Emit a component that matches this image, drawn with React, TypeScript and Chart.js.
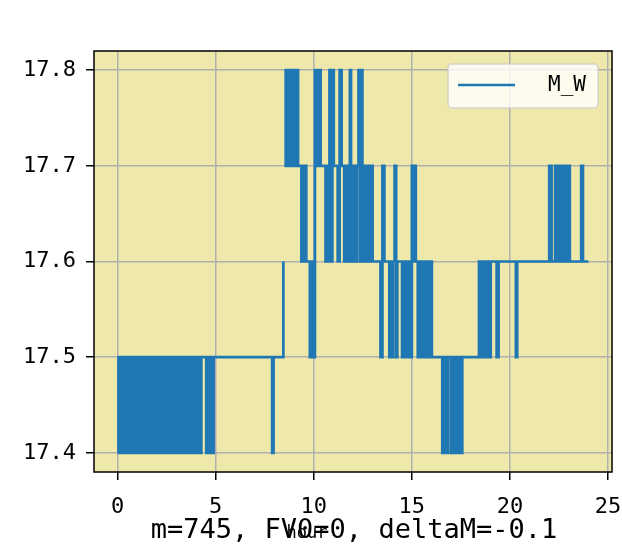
import React, { useEffect, useRef } from 'react';
import { Chart, registerables } from 'chart.js';

Chart.register(...registerables);

// Change points of the step series (hour, M_W); null marks a gap in the record
const hours: number[] = [
  0, 0.05, 0.1, 0.18, 0.24, 0.31, 0.37, 0.45, 0.5, 0.58, 0.63, 0.72, 0.77, 0.85, 0.9, 0.98,
  1.04, 1.11, 1.17, 1.25, 1.3, 1.38, 1.43, 1.52, 1.57, 1.65, 1.7, 1.78, 1.84, 1.92, 1.97,
  2.05, 2.1, 2.18, 2.24, 2.32, 2.37, 2.45, 2.5, 2.58, 2.64, 2.72, 2.77, 2.85, 2.9, 2.98,
  3.04, 3.12, 3.17, 3.25, 3.3, 3.38, 3.44, 3.52, 3.57, 3.65, 3.7, 3.78, 3.83, 3.9,
  4.02, 4.1, 4.18, 4.27,
  4.52, 4.6, 4.68, 4.77, 4.83, 4.9,
  7.88, 7.95,
  8.45, 8.47, 8.5,
  8.57, 8.63, 8.7, 8.76, 8.83, 8.89, 8.96, 9.02, 9.09, 9.15, 9.2,
  9.37, 9.44, 9.5, 9.57, 9.62,
  9.8, 9.86, 9.92, 9.98, 10.02, 10.06, 10.12, 10.18, 10.25, 10.3, 10.35,
  10.6, 10.67, 10.73, 10.8, 10.88, 10.95, 11.02,
  11.22, 11.32, 11.42,
  11.55, 11.6, 11.66, 11.72, 11.78, 11.84, 11.9, 11.96, 12.02, 12.08, 12.14, 12.2, 12.28,
  12.35, 12.42, 12.48, 12.54, 12.6, 12.67, 12.72,
  12.82, 12.88, 12.95, 13.0,
  13.4, 13.5, 13.6,
  13.85, 13.92, 13.98, 14.05, 14.12, 14.2, 14.26,
  14.5, 14.57, 14.63, 14.7, 14.77, 14.84, 14.9, 15.0, 15.08, 15.15, 15.2,
  15.3, 15.36, 15.42, 15.48, 15.54, 15.6, 15.66, 15.72, 15.78, 15.84, 15.9, 15.96, 16.02,
  16.55, 16.65, 16.75, 16.85,
  17.0, 17.07, 17.13, 17.2, 17.27, 17.33, 17.4, 17.47, 17.52, 17.57,
  18.42, 18.48, 18.54, 18.6, 18.66, 18.72, 18.78, 18.85, 18.92, 18.97, 19.02,
  19.32, 19.42,
  20.3, 20.37,
  22.0, 22.12, 22.3, 22.38, 22.5, 22.56, 22.62, 22.68, 22.74, 22.8, 22.86, 22.92, 22.98, 23.05,
  23.63, 23.72,
  24.0,
];

const mw: (number | null)[] = [
  17.4, 17.5, 17.4, 17.5, 17.4, 17.5, 17.4, 17.5, 17.4, 17.5, 17.4, 17.5, 17.4, 17.5, 17.4, 17.5,
  17.4, 17.5, 17.4, 17.5, 17.4, 17.5, 17.4, 17.5, 17.4, 17.5, 17.4, 17.5, 17.4, 17.5, 17.4,
  17.5, 17.4, 17.5, 17.4, 17.5, 17.4, 17.5, 17.4, 17.5, 17.4, 17.5, 17.4, 17.5, 17.4, 17.5,
  17.4, 17.5, 17.4, 17.5, 17.4, 17.5, 17.4, 17.5, 17.4, 17.5, 17.4, 17.5, 17.4, 17.5,
  17.4, 17.5, 17.4, 17.5,
  17.4, 17.5, 17.4, 17.5, 17.4, 17.5,
  17.4, 17.5,
  17.6, null, 17.8,
  17.7, 17.8, 17.7, 17.8, 17.7, 17.8, 17.7, 17.8, 17.7, 17.8, 17.7,
  17.6, 17.7, 17.6, 17.7, 17.6,
  17.5, 17.6, 17.5, 17.6, 17.5, 17.8, 17.7, 17.8, 17.7, 17.8, 17.7,
  17.6, 17.7, 17.6, 17.8, 17.6, 17.8, 17.7,
  17.6, 17.8, 17.7,
  17.6, 17.7, 17.6, 17.7, 17.6, 17.8, 17.6, 17.7, 17.6, 17.7, 17.6, 17.7, 17.8,
  17.6, 17.8, 17.6, 17.7, 17.6, 17.7, 17.6,
  17.7, 17.6, 17.7, 17.6,
  17.5, 17.7, 17.6,
  17.5, 17.6, 17.5, 17.6, 17.7, 17.5, 17.6,
  17.5, 17.6, 17.5, 17.6, 17.5, 17.6, 17.5, 17.7, 17.6, 17.7, 17.6,
  17.5, 17.6, 17.5, 17.6, 17.5, 17.6, 17.5, 17.6, 17.5, 17.6, 17.5, 17.6, 17.5,
  17.4, 17.5, 17.4, 17.5,
  17.4, 17.5, 17.4, 17.5, 17.4, 17.5, 17.4, 17.5, 17.4, 17.5,
  17.6, 17.5, 17.6, 17.5, 17.6, 17.5, 17.6, 17.5, 17.6, 17.5, 17.6,
  17.5, 17.6,
  17.5, 17.6,
  17.7, 17.6, 17.7, 17.6, 17.7, 17.6, 17.7, 17.6, 17.7, 17.6, 17.7, 17.6, 17.7, 17.6,
  17.7, 17.6,
  17.6,
];

const xTicks: number[] = [0, 5, 10, 15, 20, 25];
const xTickLabels: string[] = ['0', '5', '10', '15', '20', '25'];
const yTicks: number[] = [17.4, 17.5, 17.6, 17.7, 17.8];
const yTickLabels: string[] = ['17.4', '17.5', '17.6', '17.7', '17.8'];
const seriesLabel = 'M_W';
const titleText = 'm=745, FV0=0, deltaM=-0.1';
const xLabelText = 'hour';

const FONT = '"DejaVu Sans Mono", "Liberation Mono", monospace';
const LINE_COLOR = '#1f77b4';

export default function App() {
  const ref = useRef<HTMLCanvasElement | null>(null);

  useEffect(() => {
    document.body.style.margin = '0';
    const canvas = ref.current;
    if (!canvas) return;

    const decor = {
      id: 'decor',
      beforeDraw(chart: any) {
        const { ctx, chartArea: a } = chart;
        ctx.save();
        ctx.fillStyle = '#eee8aa';
        ctx.fillRect(a.left, a.top, a.right - a.left, a.bottom - a.top);
        ctx.restore();
      },
      afterDraw(chart: any) {
        const { ctx, chartArea: a } = chart;
        ctx.save();
        // spines
        ctx.strokeStyle = '#000';
        ctx.lineWidth = 1.5;
        ctx.strokeRect(a.left, a.top, a.right - a.left, a.bottom - a.top);

        // legend
        const lx = a.right - 164;
        const ly = a.top + 13;
        const lw = 150;
        const lh = 44;
        ctx.beginPath();
        (ctx as any).roundRect(lx, ly, lw, lh, 4);
        ctx.fillStyle = 'rgba(255,255,255,0.8)';
        ctx.fill();
        ctx.strokeStyle = 'rgba(204,204,204,0.8)';
        ctx.lineWidth = 1.5;
        ctx.stroke();
        ctx.beginPath();
        ctx.moveTo(lx + 10, ly + 21);
        ctx.lineTo(lx + 67, ly + 21);
        ctx.strokeStyle = LINE_COLOR;
        ctx.lineWidth = 2.7;
        ctx.stroke();
        ctx.fillStyle = '#000';
        ctx.font = `21px ${FONT}`;
        ctx.textAlign = 'left';
        ctx.textBaseline = 'middle';
        ctx.fillText(seriesLabel, lx + 100, ly + 22);

        // title (placed at the bottom) and x label
        const cx = (a.left + a.right) / 2;
        ctx.textBaseline = 'alphabetic';
        ctx.textAlign = 'center';
        ctx.font = `27px ${FONT}`;
        ctx.fillText(titleText, cx + 1, 538);
        ctx.font = `17px ${FONT}`;
        ctx.fillText(xLabelText, cx - 46, 538);
        ctx.restore();
      },
    };

    const chart = new Chart(canvas, {
      type: 'line',
      data: {
        datasets: [
          {
            label: seriesLabel,
            data: hours.map((h, i) => ({ x: h, y: mw[i] })) as any,
            borderColor: LINE_COLOR,
            backgroundColor: LINE_COLOR,
            borderWidth: 2.7,
            pointRadius: 0,
            stepped: true,
            fill: false,
            spanGaps: false,
          },
        ],
      },
      options: {
        responsive: false,
        animation: false,
        events: [],
        layout: { padding: { top: 51, right: 10, left: 0, bottom: 0 } },
        plugins: {
          legend: { display: false },
          title: { display: false },
          tooltip: { enabled: false },
        },
        scales: {
          x: {
            type: 'linear',
            min: -1.2,
            max: 25.2,
            afterBuildTicks: (s: any) => {
              s.ticks = xTicks.map((v) => ({ value: v }));
            },
            afterFit: (s: any) => {
              s.height = 81;
              s.paddingLeft = 0;
              s.paddingRight = 0;
            },
            ticks: {
              autoSkip: false,
              maxRotation: 0,
              padding: 14,
              color: '#000',
              font: { family: FONT, size: 22 },
              callback: (_v: any, i: number) => xTickLabels[i],
            },
            grid: {
              color: '#b0b0b0',
              lineWidth: 1.5,
              tickColor: '#000',
              tickWidth: 1.5,
              tickLength: 8,
            },
            border: { display: false },
          },
          y: {
            type: 'linear',
            min: 17.38,
            max: 17.82,
            afterBuildTicks: (s: any) => {
              s.ticks = yTicks.map((v) => ({ value: v }));
            },
            afterFit: (s: any) => {
              s.width = 94;
              s.paddingTop = 0;
              s.paddingBottom = 0;
            },
            ticks: {
              autoSkip: false,
              padding: 10,
              color: '#000',
              font: { family: FONT, size: 22 },
              callback: (_v: any, i: number) => yTickLabels[i],
            },
            grid: {
              color: '#b0b0b0',
              lineWidth: 1.5,
              tickColor: '#000',
              tickWidth: 1.5,
              tickLength: 8,
            },
            border: { display: false },
          },
        },
      } as any,
      plugins: [decor],
    });

    return () => chart.destroy();
  }, []);

  return <canvas ref={ref} width={622} height={553} style={{ display: 'block' }} />;
}
